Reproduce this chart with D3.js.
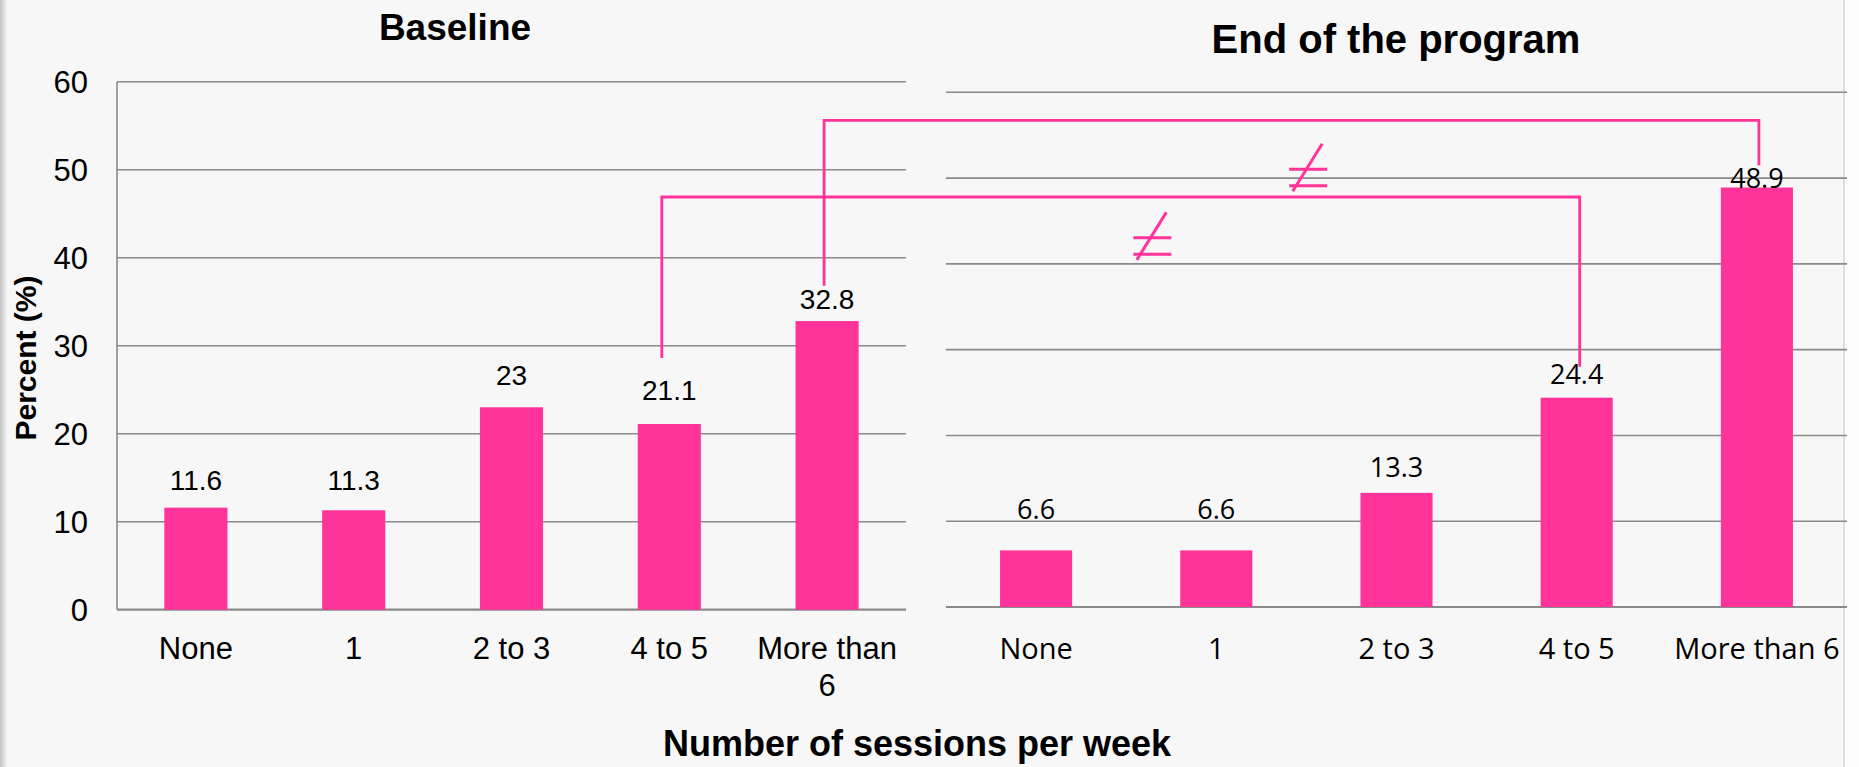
<!DOCTYPE html>
<html>
<head>
<meta charset="utf-8">
<script src="https://cdn.jsdelivr.net/npm/d3@7"></script>
<style>
  html, body { margin: 0; padding: 0; background: #f7f7f7; }
  svg { display: block; }
</style>
</head>
<body>
<svg id="chart" width="1859" height="767"></svg>
<script>
// ---------------- DATA ----------------
const categories = ["None", "1", "2 to 3", "4 to 5", "More than 6"];
const baselineValues = [11.6, 11.3, 23, 21.1, 32.8];
const endValues = [6.6, 6.6, 13.3, 24.4, 48.9];
const yTicks = [0, 10, 20, 30, 40, 50, 60];
const titleBaseline = "Baseline";
const titleEnd = "End of the program";
const yAxisTitle = "Percent (%)";
const xAxisTitle = "Number of sessions per week";
// significance connectors: baseline category, end category, top level (baseline scale),
//   start level on baseline side, end level on end side
const connectors = [
  { from: "More than 6", to: "More than 6", top: 55.6, fromLevel: 36.8, toLevel: 51.5 },
  { from: "4 to 5", to: "4 to 5", top: 46.9, fromLevel: 28.6, toLevel: 28.0 }
];
// "not equal" marks: position as fraction of end-panel width and value level
const neqMarks = [ { fx: 0.402, level: 50.1 }, { fx: 0.229, level: 42.1 } ];

// ---------------- LAYOUT / STYLE ----------------
const PINK = "#ff3399";
const GRID = "#8a8a8a";
const labelGapLeft = [27, 30, 32, 34, 22];
const labelGapRight = [41, 41, 25, 23, 9];
const connectorDx = [[-3, 2], [-7.5, 3]];

const svg = d3.select("#chart");

// background details
svg.append("rect").attr("x", 0).attr("y", 0).attr("width", 1859).attr("height", 767).attr("fill", "#f7f7f7");
const lg = svg.append("defs").append("linearGradient").attr("id", "edgeL").attr("x1", 0).attr("x2", 1);
lg.append("stop").attr("offset", 0).attr("stop-color", "#c4c4c4");
lg.append("stop").attr("offset", 1).attr("stop-color", "#f2f2f2");
svg.append("rect").attr("x", 0).attr("y", 0).attr("width", 7).attr("height", 767).attr("fill", "url(#edgeL)");
svg.append("rect").attr("x", 1844).attr("y", 0).attr("width", 15).attr("height", 767).attr("fill", "#fcfcfc");
svg.append("line").attr("x1", 1844).attr("x2", 1844).attr("y1", 0).attr("y2", 767)
  .attr("stroke", "#dedede").attr("stroke-width", 2);

// scales
const xL = d3.scaleBand().domain(categories).range([117, 906]).paddingInner(0.6).paddingOuter(0.3);
const yL = d3.scaleLinear().domain([0, 60]).range([609.7, 81.7]);
const xR = d3.scaleBand().domain(categories).range([946, 1847]).paddingInner(0.6).paddingOuter(0.3);
const yR = d3.scaleLinear().domain([0, 60]).range([607, 92.3]);
const fR = d3.scaleLinear().domain([0, 1]).range([946, 1847]);

const FL = "'Liberation Sans', Arial, sans-serif";
const FR = "'Open Sans', 'Liberation Sans', sans-serif";

function wrap(textSel, width) {
  textSel.each(function () {
    const t = d3.select(this);
    const words = t.text().split(/\s+/);
    const x = t.attr("x");
    t.text(null);
    let line = [];
    let tspan = t.append("tspan").attr("x", x).attr("dy", 0);
    words.forEach(w => {
      line.push(w);
      tspan.text(line.join(" "));
      if (tspan.node().getComputedTextLength() > width && line.length > 1) {
        line.pop();
        tspan.text(line.join(" "));
        line = [w];
        tspan = t.append("tspan").attr("x", x).attr("dy", "1.2em").text(w);
      }
    });
  });
}

function panel(opts) {
  const { x, y, values, gaps, font, tickFont, valFont, wrapLabels, showAxis } = opts;
  const g = svg.append("g");
  const [x0, x1] = x.range();
  // gridlines
  g.selectAll("line.grid").data(yTicks).join("line")
    .attr("x1", x0).attr("x2", x1)
    .attr("y1", d => y(d)).attr("y2", d => y(d))
    .attr("stroke", GRID).attr("stroke-width", d => d === 0 ? 2.2 : 1.6);
  if (showAxis) {
    g.append("line").attr("x1", x0).attr("x2", x0)
      .attr("y1", y(0)).attr("y2", y(60)).attr("stroke", GRID).attr("stroke-width", 1.6);
    const ax = d3.axisLeft(y).tickValues(yTicks).tickSize(0).tickPadding(29);
    const axG = g.append("g").attr("transform", `translate(${x0},0)`).call(ax);
    axG.select(".domain").remove();
    axG.selectAll("text").attr("font-family", font).attr("font-size", tickFont)
      .attr("fill", "#000").attr("dy", "0.35em");
  }
  // bars
  g.selectAll("rect.bar").data(values).join("rect")
    .attr("x", (d, i) => x(categories[i]))
    .attr("width", x.bandwidth())
    .attr("y", d => y(d))
    .attr("height", d => y(0) - y(d))
    .attr("fill", PINK);
  // value labels
  g.selectAll("text.val").data(values).join("text")
    .attr("x", (d, i) => x(categories[i]) + x.bandwidth() / 2)
    .attr("y", (d, i) => y(d) - gaps[i])
    .attr("dy", "0.35em")
    .attr("text-anchor", "middle")
    .attr("font-family", font).attr("font-size", valFont).attr("fill", "#000")
    .text(d => d);
  // category labels
  const cl = g.selectAll("text.cat").data(categories).join("text")
    .attr("x", d => x(d) + x.bandwidth() / 2)
    .attr("y", 659)
    .attr("text-anchor", "middle")
    .attr("font-family", font).attr("font-size", tickFont).attr("fill", "#000")
    .text(d => d);
  if (wrapLabels) wrap(cl, x.step());
}

panel({ x: xL, y: yL, values: baselineValues, gaps: labelGapLeft, font: FL,
        tickFont: 31, valFont: 28, wrapLabels: true, showAxis: true });
panel({ x: xR, y: yR, values: endValues, gaps: labelGapRight, font: FR,
        tickFont: 29, valFont: 27, wrapLabels: false, showAxis: false });

// titles
svg.append("text").attr("x", 455).attr("y", 40).attr("text-anchor", "middle")
  .attr("font-family", FL).attr("font-weight", "bold").attr("font-size", 37).text(titleBaseline);
svg.append("text").attr("x", 1396).attr("y", 53).attr("text-anchor", "middle")
  .attr("font-family", FL).attr("font-weight", "bold").attr("font-size", 40).text(titleEnd);
svg.append("text").attr("transform", "translate(36,358) rotate(-90)").attr("text-anchor", "middle")
  .attr("font-family", FL).attr("font-weight", "bold").attr("font-size", 30).text(yAxisTitle);
svg.append("text").attr("x", 917).attr("y", 756).attr("text-anchor", "middle")
  .attr("font-family", FL).attr("font-weight", "bold").attr("font-size", 36).text(xAxisTitle);

// connectors
const line = d3.line();
svg.selectAll("path.conn").data(connectors).join("path")
  .attr("d", (c, i) => {
    const xa = xL(c.from) + xL.bandwidth() / 2 + connectorDx[i][0];
    const xb = xR(c.to) + xR.bandwidth() / 2 + connectorDx[i][1];
    const yt = yL(c.top);
    return line([[xa, yL(c.fromLevel)], [xa, yt], [xb, yt], [xb, yR(c.toLevel)]]);
  })
  .attr("fill", "none").attr("stroke", PINK).attr("stroke-width", 2.8);

// not-equal marks
neqMarks.forEach(m => {
  const cx = fR(m.fx), cy = yR(m.level);
  const g = svg.append("g").attr("stroke", PINK).attr("stroke-width", 3).attr("fill", "none");
  g.append("line").attr("x1", cx - 19).attr("x2", cx + 19).attr("y1", cy - 8).attr("y2", cy - 8);
  g.append("line").attr("x1", cx - 19).attr("x2", cx + 19).attr("y1", cy + 8.5).attr("y2", cy + 8.5);
  g.append("line").attr("x1", cx + 14).attr("y1", cy - 33.5).attr("x2", cx - 15.5).attr("y2", cy + 14);
});
</script>
</body>
</html>
